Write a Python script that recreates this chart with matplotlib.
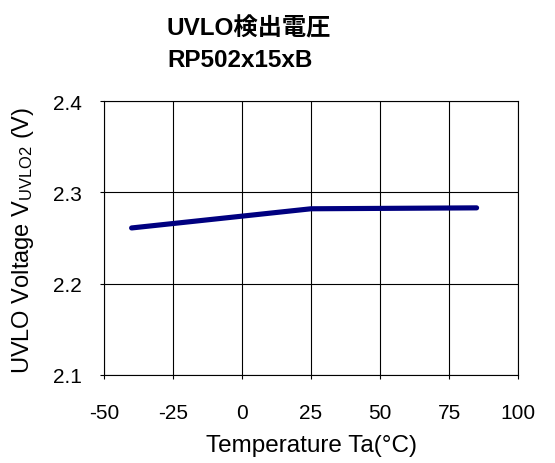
import matplotlib
matplotlib.use("Agg")
import matplotlib.pyplot as plt

plt.rcParams['font.family'] = ['Liberation Sans', 'Noto Sans CJK JP', 'DejaVu Sans']
plt.rcParams['mathtext.fontset'] = 'custom'
plt.rcParams['mathtext.rm'] = 'Liberation Sans'
plt.rcParams['mathtext.it'] = 'Liberation Sans'
plt.rcParams['axes.unicode_minus'] = False

temperature = [-40, 25, 85]
voltage = [2.261, 2.282, 2.283]
x_ticks = [-50, -25, 0, 25, 50, 75, 100]
y_ticks = [2.1, 2.2, 2.3, 2.4]
title_lines = ["UVLO検出電圧", "RP502x15xB"]

W, H = 555, 464
fig = plt.figure(figsize=(W/100, H/100), dpi=100)
ax = fig.add_axes([104/W, 1-376/H, (518-104)/W, (376-102)/H])
ax.plot(temperature, voltage, color='#000080', lw=3.7, solid_capstyle='round')
ax.set_xlim(-50, 100)
ax.set_ylim(2.1, 2.4)
ax.set_xticks(x_ticks)
ax.set_xticklabels([str(v) for v in x_ticks])
ax.set_yticks(y_ticks)
ax.set_yticklabels([f"{v:.1f}" for v in y_ticks])
ax.grid(True, color='black', lw=0.8)
ax.set_axisbelow(True)
for s in ax.spines.values():
    s.set_color('black')
    s.set_linewidth(0.8)
ax.tick_params(axis='both', labelsize=15, length=3, width=0.8)
ax.tick_params(axis='x', pad=17)
ax.tick_params(axis='y', pad=13)

fig.text(312/W, 1-452/H, "Temperature Ta(°C)", fontsize=17.5, ha='center', va='baseline')
fig.text(23/W, 1-240/H, r"UVLO Voltage V$_{\mathregular{UVLO2}}$ (V)", fontsize=17,
         rotation=90, ha='center', va='center')

fig.text(167/W, 1-35/H, title_lines[0], fontsize=17.5, fontweight='bold', ha='left', va='baseline')
fig.text(167/W, 1-67/H, title_lines[1], fontsize=17.5, fontweight='bold', ha='left', va='baseline')

fig.savefig("out.png", dpi=100)
